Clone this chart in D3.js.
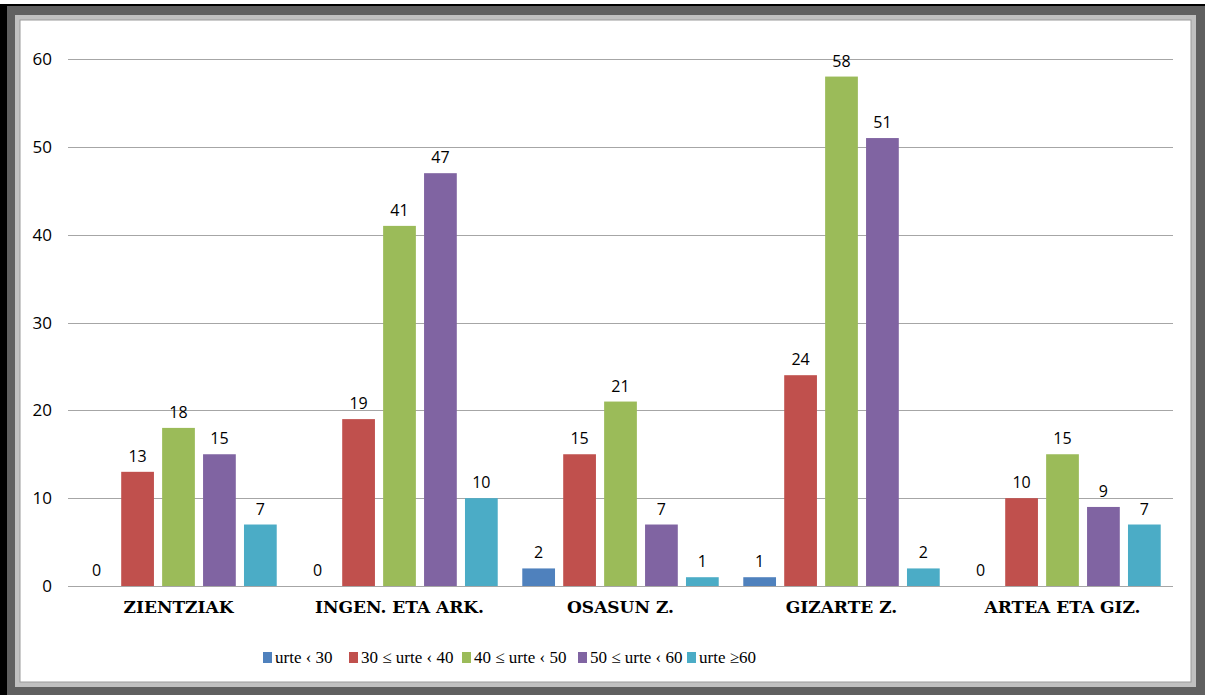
<!DOCTYPE html>
<html>
<head>
<meta charset="utf-8">
<script src="https://cdn.jsdelivr.net/npm/d3@7"></script>
<style>
  body { margin: 0; background: #fff; }
  svg { display: block; }
</style>
</head>
<body>
<div id="chart"></div>
<script>
const categories = ["ZIENTZIAK", "INGEN. ETA ARK.", "OSASUN Z.", "GIZARTE Z.", "ARTEA ETA GIZ."];
const seriesNames = ["urte \u2039 30", "30 \u2264 urte \u2039 40", "40 \u2264 urte \u2039 50", "50 \u2264 urte \u2039 60", "urte \u226560"];
const under30 = [0, 0, 2, 1, 0];
const from30to40 = [13, 19, 15, 24, 10];
const from40to50 = [18, 41, 21, 58, 15];
const from50to60 = [15, 47, 7, 51, 9];
const over60 = [7, 10, 1, 2, 7];
const yTicks = [0, 10, 20, 30, 40, 50, 60];

const seriesValues = [under30, from30to40, from40to50, from50to60, over60];
const colors = ["#4f81bd", "#c0504d", "#9bbb59", "#8064a2", "#4bacc6"];

const W = 1205, H = 695;
const svg = d3.select("#chart").append("svg").attr("width", W).attr("height", H);

// frame
svg.append("rect").attr("x", 0).attr("y", 4).attr("width", W).attr("height", H - 4).attr("fill", "#000");
svg.append("rect").attr("x", 7).attr("y", 6).attr("width", W - 7).attr("height", H - 6).attr("fill", "#606060");
svg.append("rect").attr("x", 15).attr("y", 15).attr("width", 1181).attr("height", 672).attr("fill", "#c0c0c0");
svg.append("rect").attr("x", 20).attr("y", 20).attr("width", 1171).attr("height", 662)
  .attr("fill", "#fff").attr("stroke", "#9a9a9a").attr("stroke-width", 1);

const left = 68, right = 1173;
const y = d3.scaleLinear().domain([0, 60]).range([586, 59]);
const x0 = d3.scaleBand().domain(categories).range([left, right]).padding(0);
const x1 = d3.scaleBand().domain(d3.range(5)).range([0, x0.bandwidth()])
  .paddingInner(0.2).paddingOuter(0.3);

// grid
svg.append("g").selectAll("line").data(yTicks).join("line")
  .attr("x1", left).attr("x2", right)
  .attr("y1", d => Math.round(y(d)) + 0.5).attr("y2", d => Math.round(y(d)) + 0.5)
  .attr("stroke", "#a6a6a6").attr("stroke-width", 1.2);

svg.append("g").selectAll("text").data(yTicks).join("text")
  .attr("x", 52).attr("y", d => y(d)).attr("dy", "0.36em")
  .attr("text-anchor", "end")
  .style("font-family", "'Open Sans', sans-serif").style("font-size", "17px").style("fill", "#000")
  .text(d => d);

// bars
const rows = categories.map((c, i) => seriesValues.map((s, j) => ({ cat: c, j: j, v: s[i] })));

const groups = svg.append("g").selectAll("g").data(rows).join("g")
  .attr("transform", (d, i) => "translate(" + x0(categories[i]) + ",0)");

groups.selectAll("rect").data(d => d).join("rect")
  .attr("x", d => x1(d.j)).attr("width", x1.bandwidth())
  .attr("y", d => y(d.v)).attr("height", d => y(0) - y(d.v))
  .attr("fill", d => colors[d.j]);

groups.selectAll("text").data(d => d).join("text")
  .attr("x", d => x1(d.j) + x1.bandwidth() / 2)
  .attr("y", d => y(d.v) - 10)
  .attr("text-anchor", "middle")
  .style("font-family", "'Open Sans', sans-serif").style("font-size", "16px").style("fill", "#000")
  .text(d => d.v);

// category labels
svg.append("g").selectAll("text").data(categories).join("text")
  .attr("x", d => x0(d) + x0.bandwidth() / 2).attr("y", 613)
  .attr("text-anchor", "middle")
  .style("font-family", "'DejaVu Serif'")
  .style("font-weight", "bold").style("font-size", "17px").style("fill", "#000")
  .text(d => d);

// legend
const legendX = [263, 349, 462, 578, 687];
const legend = svg.append("g").selectAll("g").data(seriesNames).join("g")
  .attr("transform", (d, i) => "translate(" + legendX[i] + ",0)");
legend.append("rect").attr("x", 0).attr("y", 652).attr("width", 9).attr("height", 11)
  .attr("fill", (d, i) => colors[i]);
legend.append("text").attr("x", 12).attr("y", 663)
  .style("font-family", "'Liberation Serif', serif").style("font-size", "17px").style("fill", "#000")
  .text(d => d);
</script>
</body>
</html>
